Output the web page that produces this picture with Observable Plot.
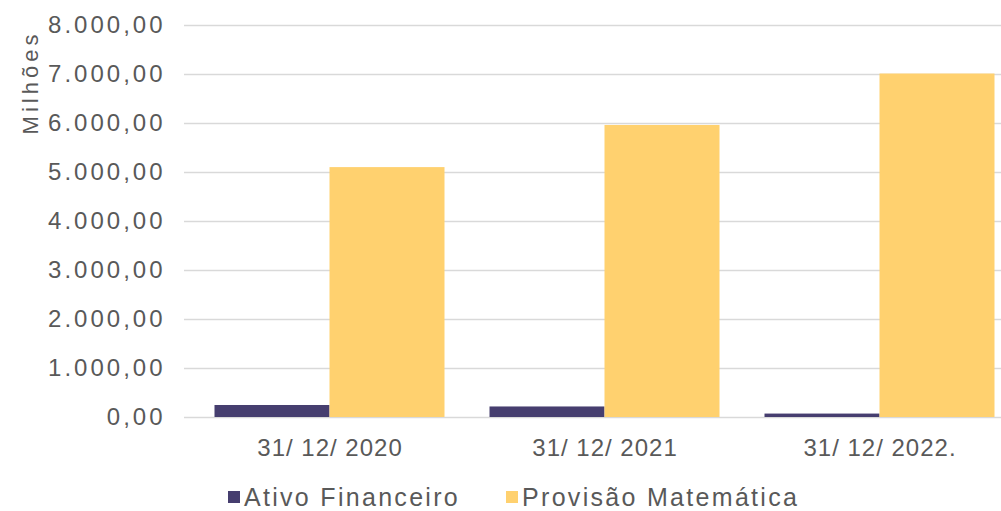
<!DOCTYPE html>
<html>
<head>
<meta charset="utf-8">
<script src="https://cdn.jsdelivr.net/npm/d3@7"></script>
<script src="https://cdn.jsdelivr.net/npm/@observablehq/plot@0.6"></script>
<style>
  html, body { margin: 0; padding: 0; background: #fff; }
  body { width: 1001px; height: 511px; overflow: hidden; font-family: "Liberation Sans", Arial, sans-serif; }
  #chart g[aria-label="y-axis tick label"] text { letter-spacing: 3px; }
  #chart g[aria-label="x-axis tick label"] text { letter-spacing: 1px; }
  #chart g[aria-label="text"] text { letter-spacing: 4px; }
  #legend { display: flex; justify-content: flex-start; align-items: center; height: 22px; padding-top: 11px; padding-left: 228px; color: #595959; font-size: 25px; line-height: 1; }
  #legend .item { display: flex; align-items: center; margin-right: 46px; }
  #legend .item span { letter-spacing: 2.3px; }
  #legend .sw { width: 12px; height: 12px; margin-right: 4px; }
</style>
</head>
<body>
<div id="chart"></div>
<div id="legend"></div>
<script>
const categories = ["31/ 12/ 2020", "31/ 12/ 2021", "31/ 12/ 2022."];
const series = ["Ativo Financeiro", "Provisão Matemática"];
const ativoFinanceiro = [245, 215, 70];
const provisaoMatematica = [5100, 5960, 7010];
const yTicks = [0, 1000, 2000, 3000, 4000, 5000, 6000, 7000, 8000];
const colors = ["#463E6F", "#FFD16F"];

const ptBR = d3.formatLocale({decimal: ",", thousands: ".", grouping: [3], currency: ["R$", ""]});
const fmt = ptBR.format(",.2f");

const dataA = categories.map((c, i) => ({cat: c, value: ativoFinanceiro[i], s: series[0]}));
const dataP = categories.map((c, i) => ({cat: c, value: provisaoMatematica[i], s: series[1]}));

const plot = Plot.plot({
  width: 1001,
  height: 475,
  marginLeft: 184,
  marginRight: 0,
  marginTop: 25,
  marginBottom: 58,
  style: {fontFamily: "Liberation Sans, Arial, sans-serif", background: "#fff"},
  x: {domain: categories, range: [191.5, 1016.5], padding: 0},
  y: {domain: [0, 8000]},
  color: {domain: series, range: colors},
  marks: [
    Plot.ruleY(yTicks, {stroke: "#d9d9d9", strokeWidth: 1.5}),
    Plot.barY(dataA, {x: "cat", y: "value", fill: "s", insetLeft: 22.5, insetRight: 137.5}),
    Plot.barY(dataP, {x: "cat", y: "value", fill: "s", insetLeft: 137.5, insetRight: 22.5}),
    Plot.axisY({ticks: yTicks, tickFormat: fmt, tickSize: 0, tickPadding: 19, label: null, fill: "#595959", fontSize: 24}),
    Plot.axisX({tickSize: 0, tickPadding: 21, label: null, fill: "#595959", fontSize: 24}),
    Plot.text(["Milhões"], {frameAnchor: "top-left", rotate: -90, dx: -162, dy: 57, textAnchor: "middle", fill: "#595959", fontSize: 22})
  ]
});
document.getElementById("chart").appendChild(plot);

const legend = document.getElementById("legend");
series.forEach((s, i) => {
  const item = document.createElement("div");
  item.className = "item";
  const sw = document.createElement("div");
  sw.className = "sw";
  sw.style.background = colors[i];
  const t = document.createElement("span");
  t.textContent = s;
  item.appendChild(sw);
  item.appendChild(t);
  legend.appendChild(item);
});
</script>
</body>
</html>
